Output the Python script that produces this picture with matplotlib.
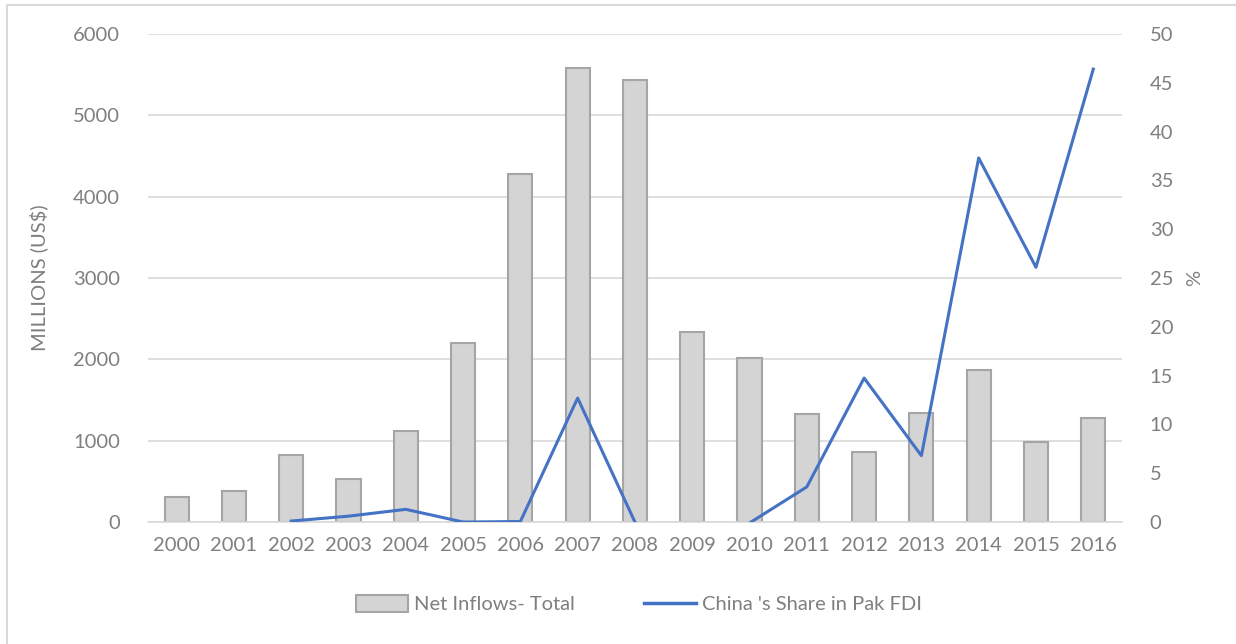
import numpy as np
import matplotlib.pyplot as plt
from matplotlib.lines import Line2D

plt.rcParams['font.family'] = ['Lato', 'DejaVu Sans']

# yearly FDI data
years = ['2000', '2001', '2002', '2003', '2004', '2005', '2006', '2007', '2008',
         '2009', '2010', '2011', '2012', '2013', '2014', '2015', '2016']
net_inflows = [307, 378, 824, 529, 1119, 2202, 4280, 5584, 5437,
               2337, 2017, 1328, 861, 1340, 1870, 984, 1279]
china_share = [np.nan, np.nan, 0.1, 0.6, 1.3, 0.0, 0.05, 12.7, 0.0,
               np.nan, -0.1, 3.6, 14.75, 6.8, 37.3, 26.1, 46.4]

grey = '#7f7f7f'
fs = 14.5
x = np.arange(len(years))

fig = plt.figure(figsize=(12.36, 6.44), dpi=100)
ax = fig.add_axes([0.1197, 0.1894, 0.788, 0.7578])
ax2 = ax.twinx()

ax.bar(x, net_inflows, width=0.42, color='#d4d4d4', edgecolor='#a5a5a5',
       linewidth=1.5, zorder=2)
ax2.plot(x, china_share, color='#4472c4', linewidth=2.2, zorder=3)

ax.set_xlim(-0.5, len(years) - 0.5)
ax.set_ylim(0, 6000)
ax2.set_ylim(0, 50)
ax.set_yticks(range(0, 6001, 1000))
ax2.set_yticks(range(0, 51, 5))
ax.set_xticks(x)
ax.set_xticklabels(years)

ax.grid(axis='y', color='#d9d9d9', linewidth=1.2, zorder=0)
ax.set_axisbelow(True)
for a in (ax, ax2):
    for s in a.spines.values():
        s.set_visible(False)
    a.tick_params(length=0, labelsize=fs, labelcolor=grey)
ax.spines['bottom'].set_visible(True)
ax.spines['bottom'].set_color('#d9d9d9')
ax.spines['bottom'].set_linewidth(1.2)
ax.tick_params(axis='y', pad=20)
ax.tick_params(axis='x', pad=11)
ax2.tick_params(axis='y', pad=20)

ax.set_ylabel('MILLIONS (US$)', fontsize=fs, color=grey, labelpad=18)
ax2.set_ylabel('%', fontsize=fs, color=grey)
ax2.yaxis.set_label_coords(1.066, 0.5)

handles = [plt.Rectangle((0, 0), 1, 1, facecolor='#d4d4d4', edgecolor='#a5a5a5', linewidth=1.5),
           Line2D([0], [0], color='#4472c4', linewidth=2.5)]
fig.legend(handles, ['Net Inflows- Total', "China 's Share in Pak FDI"],
           loc='center', bbox_to_anchor=(0.517, 0.062), ncol=2, frameon=False,
           fontsize=fs, labelcolor=grey, handlelength=2.6, handletextpad=0.3,
           columnspacing=3.4, handleheight=0.9)

# chart frame (left and top edges)
fig.add_artist(Line2D([0.0057, 0.0057], [0, 0.992], color='#d9d9d9', linewidth=1.5,
                      transform=fig.transFigure))
fig.add_artist(Line2D([0.0057, 1.0], [0.992, 0.992], color='#d9d9d9', linewidth=1.5,
                      transform=fig.transFigure))

fig.savefig('out.png', dpi=100)
